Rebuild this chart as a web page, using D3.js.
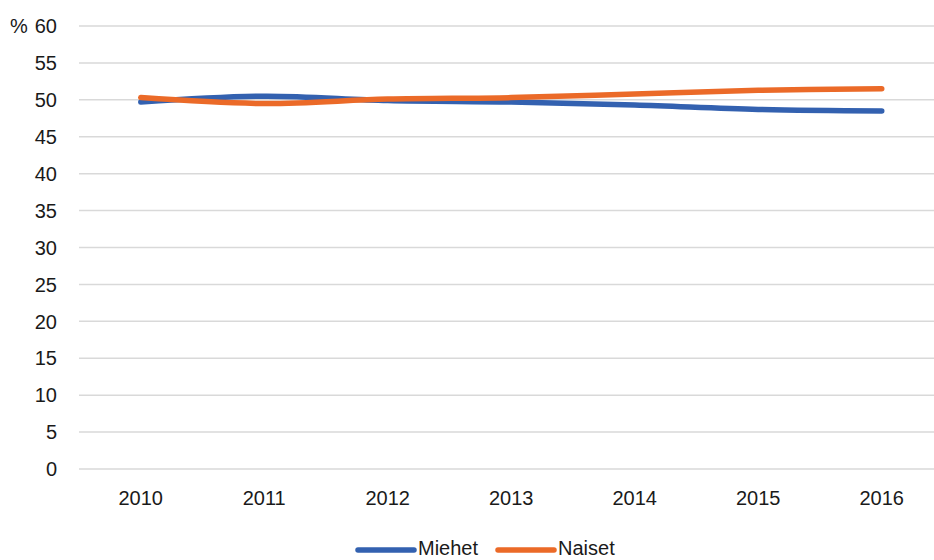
<!DOCTYPE html>
<html><head><meta charset="utf-8">
<script src="https://cdn.jsdelivr.net/npm/d3@7"></script>
<style>body{margin:0;background:#fff;} svg{display:block;font-family:"Liberation Sans",Arial,sans-serif;}</style>
</head><body>
<svg id="c" width="934" height="560"></svg>
<script>
const years = ["2010","2011","2012","2013","2014","2015","2016"];
const miehet = [49.7, 50.5, 49.9, 49.7, 49.3, 48.7, 48.5];
const naiset = [50.3, 49.5, 50.1, 50.3, 50.8, 51.3, 51.5];
const yTicks = [0,5,10,15,20,25,30,35,40,45,50,55,60];
const seriesNames = ["Miehet","Naiset"];
const colors = ["#3361b0","#eb6a28"];

const svg = d3.select("#c");
const x = d3.scaleBand().domain(years).range([79, 943.5]);
const y = d3.scaleLinear().domain([0,60]).range([469, 26]);
const fs = 20;

// gridlines
svg.append("g").selectAll("line").data(yTicks).join("line")
  .attr("x1",79).attr("x2",934)
  .attr("y1",d=>y(d)).attr("y2",d=>y(d))
  .attr("stroke","#d9d9d9").attr("stroke-width",1.5);

// y labels
svg.append("g").selectAll("text").data(yTicks).join("text")
  .attr("x",57).attr("y",d=>y(d)).attr("dy","0.36em")
  .attr("text-anchor","end").attr("font-size",fs).attr("fill","#1a1a1a")
  .text(d=>d);
svg.append("text").attr("x",10).attr("y",y(60)).attr("dy","0.36em")
  .attr("font-size",fs).attr("fill","#1a1a1a").text("%");

// x labels
svg.append("g").selectAll("text").data(years).join("text")
  .attr("x",d=>x(d)+x.bandwidth()/2).attr("y",505)
  .attr("text-anchor","middle").attr("font-size",fs).attr("fill","#1a1a1a")
  .text(d=>d);

const line = d3.line()
  .x((d,i)=>x(years[i])+x.bandwidth()/2)
  .y(d=>y(d))
  .curve(d3.curveCatmullRom.alpha(0.5));

[miehet, naiset].forEach((s,k)=>{
  svg.append("path").datum(s).attr("d",line)
    .attr("fill","none").attr("stroke",colors[k]).attr("stroke-width",5.5)
    .attr("stroke-linecap","round").attr("stroke-linejoin","round");
});

// legend
const legX = [358, 498];
seriesNames.forEach((n,k)=>{
  svg.append("line").attr("x1",legX[k]).attr("x2",legX[k]+56)
    .attr("y1",550).attr("y2",550)
    .attr("stroke",colors[k]).attr("stroke-width",5.5).attr("stroke-linecap","round");
  svg.append("text").attr("x",legX[k]+60).attr("y",555)
    .attr("font-size",fs).attr("fill","#1a1a1a").text(n);
});
</script>
</body></html>
